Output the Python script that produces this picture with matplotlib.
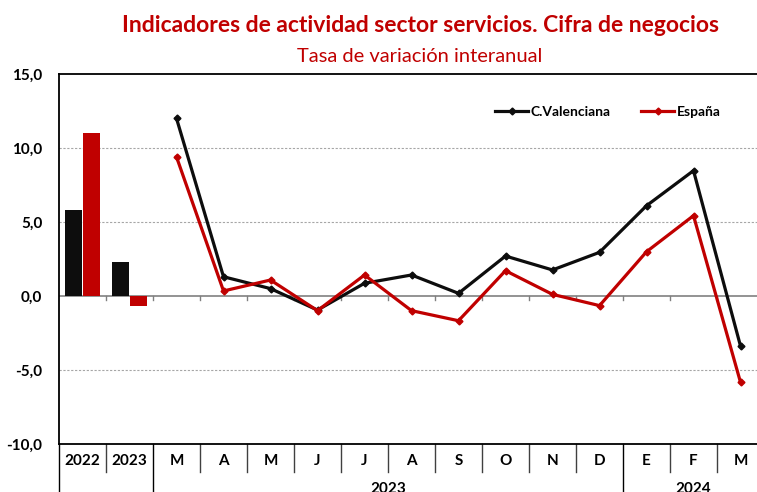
import matplotlib
matplotlib.use("Agg")
import matplotlib.pyplot as plt
from matplotlib.lines import Line2D

plt.rcParams['font.family'] = ['Lato', 'DejaVu Sans']

categories = ["2022", "2023", "M", "A", "M", "J", "J", "A", "S", "O", "N", "D", "E", "F", "M"]
annual_cv = [5.8, 2.3]
annual_es = [11.0, -0.7]
monthly_cv = [12.0, 1.3, 0.5, -0.95, 0.86, 1.42, 0.18, 2.7, 1.76, 2.95, 6.1, 8.47, -3.38]
monthly_es = [9.4, 0.34, 1.08, -0.99, 1.42, -0.99, -1.67, 1.71, 0.11, -0.65, 2.99, 5.43, -5.83]
year_groups = [("2023", 2, 11), ("2024", 12, 14)]
yticks = [-10, -5, 0, 5, 10, 15]
ytick_labels = ["-10,0", "-5,0", "0,0", "5,0", "10,0", "15,0"]

BLACK = "#0d0d0d"
RED = "#c00000"

W, H = 757, 492
fig = plt.figure(figsize=(W / 100, H / 100), dpi=100)
ax = fig.add_axes([59 / W, (H - 444) / H, (764 - 59) / W, (444 - 74) / H])

n = len(categories)
ax.set_xlim(-0.5, n - 0.5)
ax.set_ylim(-10, 15)

# bars for annual
bw = 0.36
xa = list(range(len(annual_cv)))
ax.bar([x - 0.2 for x in xa], annual_cv, width=bw, color=BLACK, zorder=3)
ax.bar([x + 0.2 for x in xa], annual_es, width=bw, color=RED, zorder=3)

# lines for monthly
xm = list(range(2, 2 + len(monthly_cv)))
ax.plot(xm, monthly_cv, color=BLACK, lw=2.3, marker='D', ms=3.5, zorder=4, label="C.Valenciana")
ax.plot(xm, monthly_es, color=RED, lw=2.3, marker='D', ms=3.5, zorder=4, label="España")

# grid
for y in [10, 5, -5]:
    ax.axhline(y, color="#a6a6a6", lw=0.8, ls=(0, (2, 1.5)), zorder=1)
ax.axhline(0, color="#808080", lw=1.2, zorder=2)
for k in range(1, n):
    ax.plot([k - 0.5, k - 0.5], [0, -0.3], color="#808080", lw=1, zorder=2)

ax.spines['right'].set_visible(False)
ax.spines['left'].set_color('black')
ax.spines['left'].set_linewidth(1.3)
ax.spines['top'].set_linewidth(1.3)
ax.spines['bottom'].set_linewidth(1.3)

ax.set_yticks(yticks)
ax.set_yticklabels(ytick_labels, fontsize=11, fontweight='bold')
ax.tick_params(axis='y', length=0, pad=12)
ax.set_xticks([])

# category labels table
trans = ax.get_xaxis_transform()
for i, c in enumerate(categories):
    ax.text(i, -0.045, c, transform=trans, ha='center', va='center',
            fontsize=11, fontweight='bold', clip_on=False)
long_bounds = [-0.5, 1.5, 11.5]
for k in range(0, n):
    b = k - 0.5
    if b in long_bounds:
        ax.plot([b, b], [0, -0.2], transform=trans, color='black', lw=1, clip_on=False)
    else:
        ax.plot([b, b], [0, -0.075], transform=trans, color='#404040', lw=1, clip_on=False)
for name, a, b in year_groups:
    ax.text((a + b) / 2, -0.103, name, transform=trans, ha='center', va='top',
            fontsize=11, fontweight='bold', clip_on=False)

# legend
handles = [Line2D([], [], color=BLACK, lw=2.3, marker='D', ms=3.5),
           Line2D([], [], color=RED, lw=2.3, marker='D', ms=3.5)]
fig.legend(handles, ["C.Valenciana", "España"], loc='center left',
           bbox_to_anchor=(495 / W, (H - 112) / H), ncol=2, frameon=False,
           prop={'size': 10, 'weight': 'bold'}, handlelength=2.4,
           handletextpad=0.15, columnspacing=2.2, borderpad=0, borderaxespad=0)

fig.text(420 / W, (H - 25) / H, "Indicadores de actividad sector servicios. Cifra de negocios",
         ha='center', va='center', color=RED, fontsize=16.5, fontweight='bold')
fig.text(420 / W, (H - 56) / H, "Tasa de variación interanual",
         ha='center', va='center', color=RED, fontsize=14.5)

fig.savefig("out.png", dpi=100)
